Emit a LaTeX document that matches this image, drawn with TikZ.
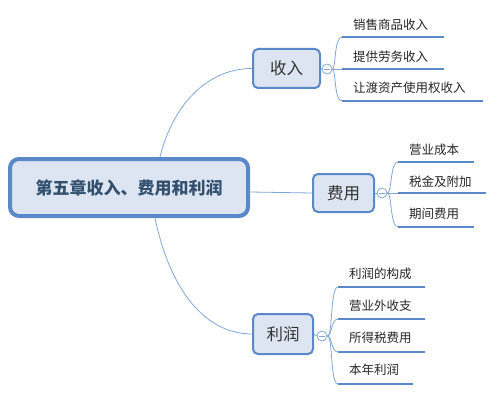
\documentclass[tikz,border=0pt]{standalone}
\usepackage{fontspec}
\setmainfont{Noto Sans CJK SC}
\definecolor{boxline}{HTML}{5A88C8}
\definecolor{boxfill}{HTML}{DCE5F1}
\definecolor{branchc}{HTML}{7FA6D6}
\definecolor{maintext}{HTML}{33506F}
\definecolor{subtext}{HTML}{333333}
\tikzset{
  mainbox/.style={draw=boxline, fill=boxfill, line width=4pt, rounded corners=9pt,
    minimum width=238pt, minimum height=57pt, font=\fontsize{17}{20}\selectfont\bfseries, text=maintext},
  subbox/.style={draw=boxline, fill=boxfill, line width=2pt, rounded corners=5pt,
    font=\fontsize{16.5}{19}\selectfont, text=subtext, inner sep=0pt},
  toggle/.style={circle, draw=branchc, fill=white, line width=0.8pt, minimum size=10pt, inner sep=0pt,
    path picture={\draw[branchc, line width=0.7pt] ([xshift=-2.6pt]path picture bounding box.center) -- ([xshift=2.6pt]path picture bounding box.center);}},
  leaf/.style={anchor=west, inner sep=0pt, font=\fontsize{12.5}{15}\selectfont, text=black!85},
  uline/.style={draw=boxline, line width=2.6pt},
  branch/.style={draw=branchc, line width=0.8pt},
}
\begin{document}
\begin{tikzpicture}[x=1pt, y=-1pt]
\useasboundingbox (0,0) rectangle (502,401);

% main node
\node[mainbox] (main) at (129,187.5) {第五章收入、费用和利润};

% level 1
\node[subbox, minimum width=67pt, minimum height=39pt] (inc) at (286.5,68.5) {收入};
\node[subbox, minimum width=61pt, minimum height=38pt] (exp) at (343.5,193) {费用};
\node[subbox, minimum width=60pt, minimum height=40pt] (pro) at (283,334) {利润};

% connectors from main
\coordinate (mtop) at (160,157);
\coordinate (mbot) at (155,218);
\coordinate (mright) at (250,192);
\draw[branch] (mtop) .. controls (172,108) and (205,68.5) .. (inc.west);
\draw[branch] (mright) -- (exp.west);
\draw[branch] (mbot) .. controls (170,290) and (205,334) .. (pro.west);

% toggles
\node[toggle] (t1) at (327,69) {};
\node[toggle] (t2) at (382,193) {};
\node[toggle] (t3) at (322,336) {};
\draw[branch] (inc.east) -- (t1.west);
\draw[branch] (exp.east) -- (t2.west);
\draw[branch] (pro.east) -- (t3.west);

% income leaves
\coordinate (u11) at (342,37);
\coordinate (u12) at (342,69);
\coordinate (u13) at (342,101);
\node[leaf] (l11) at (353,24.5) {销售商品收入};
\node[leaf] (l12) at (353,56.5) {提供劳务收入};
\node[leaf] (l13) at (353,88) {让渡资产使用权收入};
\draw[uline] (u11) -- ++(102,0);
\draw[uline] (u12) -- ++(102,0);
\draw[uline] (u13) -- ++(141,0);
\draw[branch] (t1.east) .. controls (336,69) and (334,37) .. (u11);
\draw[branch] (t1.east) -- (u12);
\draw[branch] (t1.east) .. controls (336,69) and (334,101) .. (u13);

% expense leaves
\coordinate (u21) at (398,162);
\coordinate (u22) at (398,193);
\coordinate (u23) at (398,227);
\node[leaf] (l21) at (409,150) {营业成本};
\node[leaf] (l22) at (409,181.5) {税金及附加};
\node[leaf] (l23) at (409,213.5) {期间费用};
\draw[uline] (u21) -- ++(76,0);
\draw[uline] (u22) -- ++(88,0);
\draw[uline] (u23) -- ++(76,0);
\draw[branch] (t2.east) .. controls (392,193) and (390,162) .. (u21);
\draw[branch] (t2.east) -- (u22);
\draw[branch] (t2.east) .. controls (392,193) and (390,227) .. (u23);

% profit leaves
\coordinate (u31) at (338,287);
\coordinate (u32) at (338,319);
\coordinate (u33) at (338,352);
\coordinate (u34) at (338,384);
\node[leaf] (l31) at (349,273.5) {利润的构成};
\node[leaf] (l32) at (349,305.5) {营业外收支};
\node[leaf] (l33) at (349,338) {所得税费用};
\node[leaf] (l34) at (349,370) {本年利润};
\draw[uline] (u31) -- ++(87,0);
\draw[uline] (u32) -- ++(87,0);
\draw[uline] (u33) -- ++(87,0);
\draw[uline] (u34) -- ++(75,0);
\draw[branch] (t3.east) .. controls (333,336) and (330,287) .. (u31);
\draw[branch] (t3.east) .. controls (332,336) and (331,319) .. (u32);
\draw[branch] (t3.east) .. controls (332,336) and (331,352) .. (u33);
\draw[branch] (t3.east) .. controls (333,336) and (330,384) .. (u34);
\end{tikzpicture}
\end{document}
